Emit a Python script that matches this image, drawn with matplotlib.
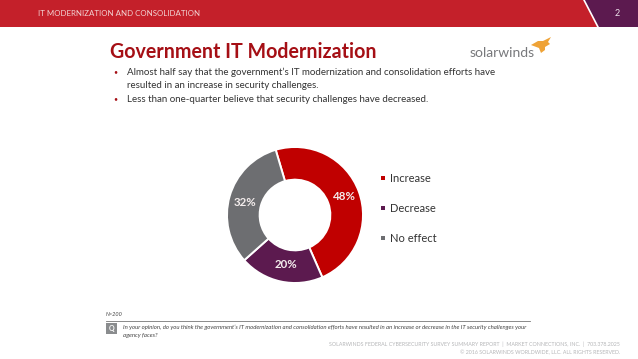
import matplotlib
matplotlib.use("Agg")
import matplotlib.pyplot as plt
from matplotlib.patches import Polygon, Rectangle

categories = ["Increase", "Decrease", "No effect"]
values = [48, 20, 32]
colors = ["#C00000", "#5C1A4F", "#6D6E71"]
bullets = [
    "Almost half say that the government\u2019s IT modernization and consolidation efforts have",
    "resulted in an increase in security challenges.",
    "Less than one-quarter believe that security challenges have decreased.",
]
question = [
    "In your opinion, do you think the government\u2019s IT modernization and consolidation efforts have resulted in an increase or decrease in the IT security challenges your",
    "agency faces?",
]

W, H = 638, 359
plt.rcParams["font.family"] = ["Lato", "DejaVu Sans"]

fig = plt.figure(figsize=(W / 100, H / 100), dpi=100)
bg = fig.add_axes([0, 0, 1, 1])
bg.set_xlim(0, W)
bg.set_ylim(H, 0)
bg.axis("off")
bg.set_zorder(2)

# header band
bg.add_patch(Rectangle((0, 0), W, 27, color="#C4202A", lw=0))
bg.add_patch(Polygon([[584, 0], [W, 0], [W, 27], [598, 27]], color="#5C1A4F", lw=0))
bg.plot([584, 598], [0, 27], color="white", lw=1.2)
bg.text(38, 14, "IT MODERNIZATION AND CONSOLIDATION", color="#F2D5D5", fontsize=5.65, va="center")
bg.text(617, 14, "2", color="#EEE3EC", fontsize=6.5, va="center", ha="center")

# title and logo
bg.text(110, 52, "Government IT Modernization", color="#A50F15", fontsize=14.15, fontweight="bold", va="center")
bg.text(470, 53, "solarwinds", color="#77787B", fontsize=10, va="center")
bg.add_patch(Polygon([[531, 45], [538, 41], [543, 41], [551, 37], [548, 42], [550, 44], [545, 47],
                     [545, 50], [541, 53], [539, 48]], color="#EFA337", lw=0))

# bullets
bg.text(113, 72, "\u2022", color="#A50F15", fontsize=5, va="center")
bg.text(127, 72, bullets[0], color="#333333", fontsize=7.05, va="center")
bg.text(127, 85, bullets[1], color="#333333", fontsize=7.05, va="center")
bg.text(113, 99, "\u2022", color="#A50F15", fontsize=5, va="center")
bg.text(127, 99, bullets[2], color="#333333", fontsize=7.05, va="center")

# donut
cx, cy, r = 295, 215, 68
ax = fig.add_axes([(cx - r) / W, 1 - (cy + r) / H, 2 * r / W, 2 * r / H])
wedges, _ = ax.pie(values, colors=colors, startangle=106.5, counterclock=False, radius=1,
                   wedgeprops=dict(width=0.48, edgecolor="white", linewidth=1.4))
ax.set_xlim(-1, 1)
ax.set_ylim(-1, 1)

label_pos = [(344, 197), (286, 265), (245, 202)]
for v, (x, y) in zip(values, label_pos):
    bg.text(x, y, f"{v}%", color="#F4EDED", fontsize=8.3, fontweight="bold", ha="center", va="center")

# legend
for i, (name, col) in enumerate(zip(categories, colors)):
    y = 178 + i * 30
    bg.add_patch(Rectangle((381, y - 2), 4, 4, color=col, lw=0))
    bg.text(390, y, name, color="#333333", fontsize=8, va="center")

# footer
bg.text(106, 315, "N=200", color="#444444", fontsize=4, style="italic", va="center")
bg.plot([106, 530], [320.5, 320.5], color="#777777", lw=0.6)
bg.add_patch(Rectangle((106, 323), 11, 11, color="#8A8C8E", lw=0))
bg.text(111.5, 328.5, "Q", color="white", fontsize=5, fontweight="bold", ha="center", va="center")
bg.text(123, 327, question[0], color="#444444", fontsize=4.3, style="italic", va="center")
bg.text(123, 335, question[1], color="#444444", fontsize=4.3, style="italic", va="center")
bg.text(620, 344, "SOLARWINDS FEDERAL CYBERSECURITY SURVEY SUMMARY REPORT  |  MARKET CONNECTIONS, INC.  |  703.378.2025",
        color="#B5B6B8", fontsize=3.8, ha="right", va="center")
bg.text(620, 353, "\u00a9 2016 SOLARWINDS WORLDWIDE, LLC. ALL RIGHTS RESERVED.",
        color="#B5B6B8", fontsize=3.8, ha="right", va="center")

fig.savefig("out.png", dpi=100)
